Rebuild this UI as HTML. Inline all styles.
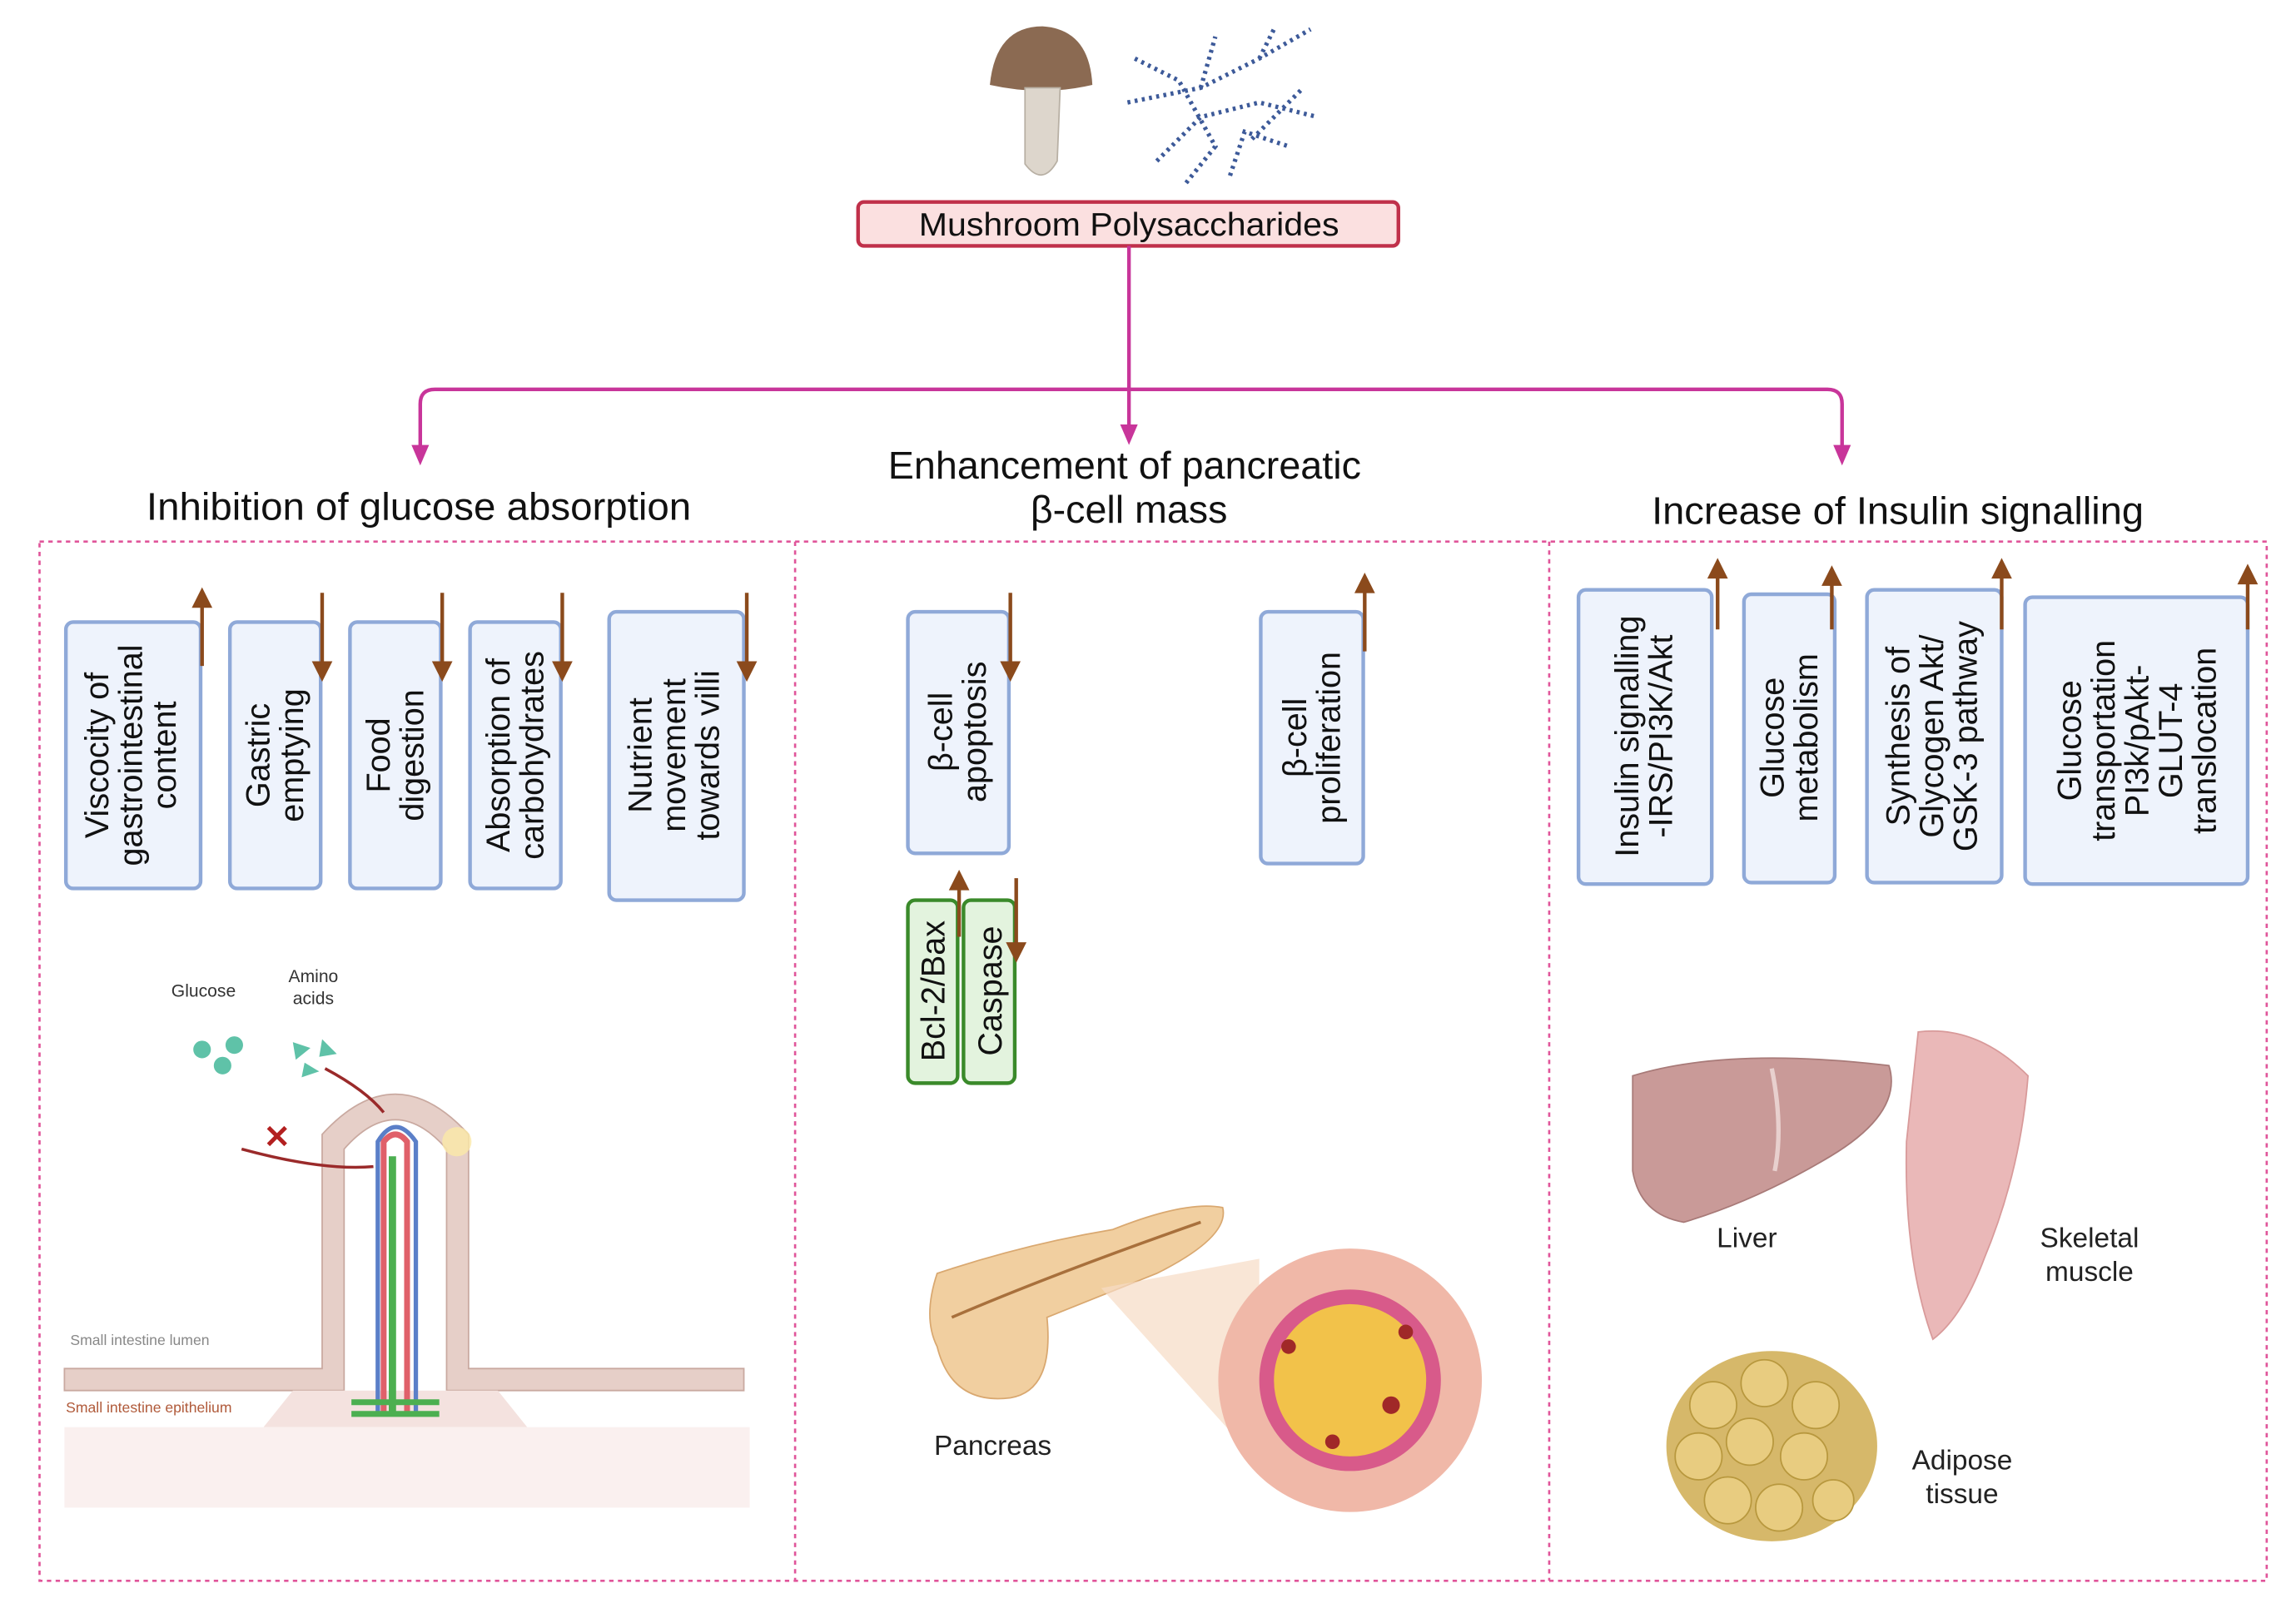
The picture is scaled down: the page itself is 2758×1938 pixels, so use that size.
<!DOCTYPE html>
<html><head><meta charset="utf-8"><style>
html,body{margin:0;padding:0;background:#fff;}
svg{display:block;font-family:"Liberation Sans",sans-serif;}
</style></head><body>
<svg width="2758" height="1938" viewBox="0 0 1568 1102" preserveAspectRatio="none" xmlns="http://www.w3.org/2000/svg">
<defs>
<marker id="mg" markerWidth="8" markerHeight="8" refX="4" refY="4" orient="auto" markerUnits="userSpaceOnUse"><path d="M0,0 L8,4 L0,8 z" fill="#c8359a"/></marker>
</defs>
<rect width="1568" height="1102" fill="#fff"/>
<!-- mushroom -->
<path d="M676,58 Q680,18 712,18 Q744,20 746,58 Q712,66 676,58 z" fill="#8b6a52"/>
<path d="M700,60 L724,60 L722,110 Q712,128 700,112 z" fill="#ddd6cc" stroke="#b8b0a4"/>
<!-- polysaccharide -->
<g stroke="#3d5a99" stroke-width="3" stroke-dasharray="2 3" fill="none">
<path d="M770,70 L820,60 L860,40 L895,20"/><path d="M790,110 L820,80 L860,70 L900,80"/><path d="M820,60 L830,25"/><path d="M840,120 L850,90 L880,100"/><path d="M775,40 L805,55 L830,100 L810,125"/><path d="M860,40 L870,20"/><path d="M855,95 L890,60"/>
</g>
<!-- title -->
<rect x="586" y="138" width="369" height="30" rx="4" fill="#fbe0e0" stroke="#c0304a" stroke-width="2.5"/>
<text x="771" y="161" font-size="22" text-anchor="middle" fill="#111" textLength="287" lengthAdjust="spacingAndGlyphs">Mushroom Polysaccharides</text>
<!-- connectors -->
<g stroke="#c8359a" stroke-width="2.5" fill="none">
<path d="M771,168 L771,298" marker-end="url(#mg)"/>
<path d="M287,312 L287,276 Q287,266 297,266 L1248,266 Q1258,266 1258,276 L1258,312"/>
</g>
<path d="M281,304 L293,304 L287,318 z" fill="#c8359a"/><path d="M1252,304 L1264,304 L1258,318 z" fill="#c8359a"/>
<path d="M765,290 L777,290 L771,304 z" fill="#c8359a"/>
<!-- headings -->
<g font-size="26.5" fill="#111" text-anchor="middle">
<text x="286" y="355" textLength="372" lengthAdjust="spacingAndGlyphs">Inhibition of glucose absorption</text>
<text x="768" y="327" textLength="323" lengthAdjust="spacingAndGlyphs">Enhancement of pancreatic</text>
<text x="771" y="357">β-cell mass</text>
<text x="1296" y="358" textLength="336" lengthAdjust="spacingAndGlyphs">Increase of Insulin signalling</text>
</g>
<!-- dotted frame -->
<g stroke="#e0559a" stroke-width="1.5" stroke-dasharray="3 3" fill="none">
<rect x="27" y="370" width="1521" height="710"/>
<line x1="543" y1="370" x2="543" y2="1080"/><line x1="1058" y1="370" x2="1058" y2="1080"/>
</g>
<!-- blue boxes -->
<g fill="#eef3fc" stroke="#8fa9d8" stroke-width="2.5">
<rect x="45" y="425" width="92" height="182" rx="5"/>
<rect x="157" y="425" width="62" height="182" rx="5"/>
<rect x="239" y="425" width="62" height="182" rx="5"/>
<rect x="321" y="425" width="62" height="182" rx="5"/>
<rect x="416" y="418" width="92" height="197" rx="5"/>
<rect x="620" y="418" width="69" height="165" rx="5"/>
<rect x="861" y="418" width="70" height="172" rx="5"/>
<rect x="1078" y="403" width="91" height="201" rx="5"/>
<rect x="1191" y="406" width="62" height="197" rx="5"/>
<rect x="1275" y="403" width="92" height="200" rx="5"/>
<rect x="1383" y="408" width="152" height="196" rx="5"/>
</g>
<g fill="#e3f3de" stroke="#3a8a2a" stroke-width="2.5">
<rect x="620" y="615" width="34" height="125" rx="5"/>
<rect x="658" y="615" width="35" height="125" rx="5"/>
</g>
<g font-size="22.5" fill="#111" text-anchor="middle">
<text transform="translate(91,516) rotate(-90)"><tspan x="0" dy="-17">Viscocity of</tspan><tspan x="0" dy="23">gastrointestinal</tspan><tspan x="0" dy="23">content</tspan></text>
<text transform="translate(188,516) rotate(-90)"><tspan x="0" dy="-4">Gastric</tspan><tspan x="0" dy="23">emptying</tspan></text>
<text transform="translate(270,516) rotate(-90)"><tspan x="0" dy="-4">Food</tspan><tspan x="0" dy="23">digestion</tspan></text>
<text transform="translate(352,516) rotate(-90)"><tspan x="0" dy="-4">Absorption of</tspan><tspan x="0" dy="23">carbohydrates</tspan></text>
<text transform="translate(462,516) rotate(-90)"><tspan x="0" dy="-17">Nutrient</tspan><tspan x="0" dy="23">movement</tspan><tspan x="0" dy="23">towards villi</tspan></text>
<text transform="translate(654,500) rotate(-90)"><tspan x="0" dy="-4">β-cell</tspan><tspan x="0" dy="23">apoptosis</tspan></text>
<text transform="translate(896,504) rotate(-90)"><tspan x="0" dy="-4">β-cell</tspan><tspan x="0" dy="23">proliferation</tspan></text>
<text transform="translate(645,677) rotate(-90)">Bcl-2/Bax</text>
<text transform="translate(684,677) rotate(-90)">Caspase</text>
<text transform="translate(1123,503) rotate(-90)"><tspan x="0" dy="-4">Insulin signalling</tspan><tspan x="0" dy="23">-IRS/PI3K/Akt</tspan></text>
<text transform="translate(1222,504) rotate(-90)"><tspan x="0" dy="-4">Glucose</tspan><tspan x="0" dy="23">metabolism</tspan></text>
<text transform="translate(1321,503) rotate(-90)"><tspan x="0" dy="-17">Synthesis of</tspan><tspan x="0" dy="23">Glycogen Akt/</tspan><tspan x="0" dy="23">GSK-3 pathway</tspan></text>
<text transform="translate(1459,506) rotate(-90)"><tspan x="0" dy="-38">Glucose</tspan><tspan x="0" dy="23">transportation</tspan><tspan x="0" dy="23">PI3k/pAkt-</tspan><tspan x="0" dy="23">GLUT-4</tspan><tspan x="0" dy="23">translocation</tspan></text>
</g>
<!-- brown arrows -->
<g stroke="#8b4a1c" stroke-width="2.5" fill="#8b4a1c">
<line x1="138" y1="455" x2="138" y2="413"/><path d="M133,414 L143,414 L138,404 z"/>
<line x1="220" y1="405" x2="220" y2="454"/><path d="M215,453 L225,453 L220,463 z"/>
<line x1="302" y1="405" x2="302" y2="454"/><path d="M297,453 L307,453 L302,463 z"/>
<line x1="384" y1="405" x2="384" y2="454"/><path d="M379,453 L389,453 L384,463 z"/>
<line x1="510" y1="405" x2="510" y2="454"/><path d="M505,453 L515,453 L510,463 z"/>
<line x1="690" y1="405" x2="690" y2="454"/><path d="M685,453 L695,453 L690,463 z"/>
<line x1="932" y1="445" x2="932" y2="403"/><path d="M927,404 L937,404 L932,394 z"/>
<line x1="655" y1="640" x2="655" y2="606"/><path d="M650,607 L660,607 L655,597 z"/>
<line x1="694" y1="600" x2="694" y2="646"/><path d="M689,645 L699,645 L694,655 z"/>
<line x1="1173" y1="430" x2="1173" y2="393"/><path d="M1168,394 L1178,394 L1173,384 z"/>
<line x1="1251" y1="430" x2="1251" y2="398"/><path d="M1246,399 L1256,399 L1251,389 z"/>
<line x1="1367" y1="430" x2="1367" y2="393"/><path d="M1362,394 L1372,394 L1367,384 z"/>
<line x1="1535" y1="430" x2="1535" y2="397"/><path d="M1530,398 L1540,398 L1535,388 z"/>
</g>
<!-- villus illustration -->
<rect x="44" y="975" width="468" height="55" fill="#faf0ef"/>
<path d="M44,935 L220,935 L220,775 Q270,720 320,775 L320,935 L508,935 L508,950 L305,950 L305,785 Q270,745 235,785 L235,950 L44,950 z" fill="#e6cfc8" stroke="#c9a9a0"/>
<path d="M200,950 L340,950 L360,975 L180,975 z" fill="#f4e2df"/>
<path d="M262,965 L262,780 Q270,770 278,780 L278,965" stroke="#e0606a" stroke-width="4" fill="none"/>
<path d="M268,965 L268,790" stroke="#4caf50" stroke-width="5"/>
<path d="M258,965 L258,780 Q270,760 284,780 L284,965" stroke="#5b7fc8" stroke-width="3" fill="none"/>
<path d="M240,958 L300,958 M240,966 L300,966" stroke="#4caf50" stroke-width="4"/>
<circle cx="312" cy="780" r="10" fill="#fbe9a8" opacity="0.8"/>
<g fill="#5fc2a8"><circle cx="138" cy="717" r="6"/><circle cx="160" cy="714" r="6"/><circle cx="152" cy="728" r="6"/>
<path d="M200,712 L212,716 L202,724 z"/><path d="M220,710 L230,720 L218,722 z"/><path d="M208,726 L218,732 L206,736 z"/></g>
<path d="M222,730 Q250,745 262,760" stroke="#9a2a2a" stroke-width="2" fill="none"/>
<path d="M165,785 Q220,800 255,797" stroke="#9a2a2a" stroke-width="2" fill="none"/>
<text x="180" y="784" font-size="22" fill="#b32020" font-weight="bold">✕</text>
<g font-size="12" fill="#333" text-anchor="middle"><text x="139" y="681">Glucose</text><text x="214" y="671">Amino</text><text x="214" y="686">acids</text></g>
<text x="48" y="919" font-size="10" fill="#888">Small intestine lumen</text>
<text x="45" y="965" font-size="10" fill="#b05a3a">Small intestine epithelium</text>
<!-- pancreas -->
<path d="M640,870 Q700,850 760,840 Q810,820 835,825 Q840,845 790,870 Q740,890 715,900 Q720,950 690,955 Q650,960 640,920 Q630,900 640,870 z" fill="#f1cfa0" stroke="#d9a870"/>
<path d="M650,900 Q720,870 820,835" stroke="#a8703c" stroke-width="2" fill="none"/>
<path d="M752,880 L860,860 L860,1000 z" fill="#f7dcc4" opacity="0.7"/>
<circle cx="922" cy="943" r="90" fill="#f0b8a8"/>
<circle cx="922" cy="943" r="62" fill="#d85a8a"/>
<circle cx="922" cy="943" r="52" fill="#f2c24a"/>
<g fill="#a02828"><circle cx="880" cy="920" r="5"/><circle cx="950" cy="960" r="6"/><circle cx="910" cy="985" r="5"/><circle cx="960" cy="910" r="5"/></g>
<text x="678" y="994" font-size="19" fill="#222" text-anchor="middle">Pancreas</text>
<!-- liver -->
<path d="M1115,735 Q1180,715 1290,728 Q1300,760 1250,790 Q1200,820 1150,835 Q1120,830 1115,800 z" fill="#c99a98" stroke="#a87a78"/>
<path d="M1210,730 Q1218,770 1212,800" stroke="#e8d0ce" stroke-width="3" fill="none"/>
<text x="1193" y="852" font-size="19" fill="#222" text-anchor="middle">Liver</text>
<!-- muscle -->
<path d="M1310,705 Q1350,700 1385,735 Q1380,800 1355,860 Q1340,900 1320,915 Q1300,860 1302,780 z" fill="#eab8b8" stroke="#d89a9a"/>
<g font-size="19" fill="#222" text-anchor="middle"><text x="1427" y="852">Skeletal</text><text x="1427" y="875">muscle</text></g>
<!-- adipose -->
<ellipse cx="1210" cy="988" rx="72" ry="65" fill="#d6b86a"/>
<g fill="#e8cc80" stroke="#b8983e"><circle cx="1170" cy="960" r="16"/><circle cx="1205" cy="945" r="16"/><circle cx="1240" cy="960" r="16"/><circle cx="1160" cy="995" r="16"/><circle cx="1195" cy="985" r="16"/><circle cx="1232" cy="995" r="16"/><circle cx="1180" cy="1025" r="16"/><circle cx="1215" cy="1030" r="16"/><circle cx="1252" cy="1025" r="14"/></g>
<g font-size="19" fill="#222" text-anchor="middle"><text x="1340" y="1004">Adipose</text><text x="1340" y="1027">tissue</text></g>
</svg>
</body></html>
